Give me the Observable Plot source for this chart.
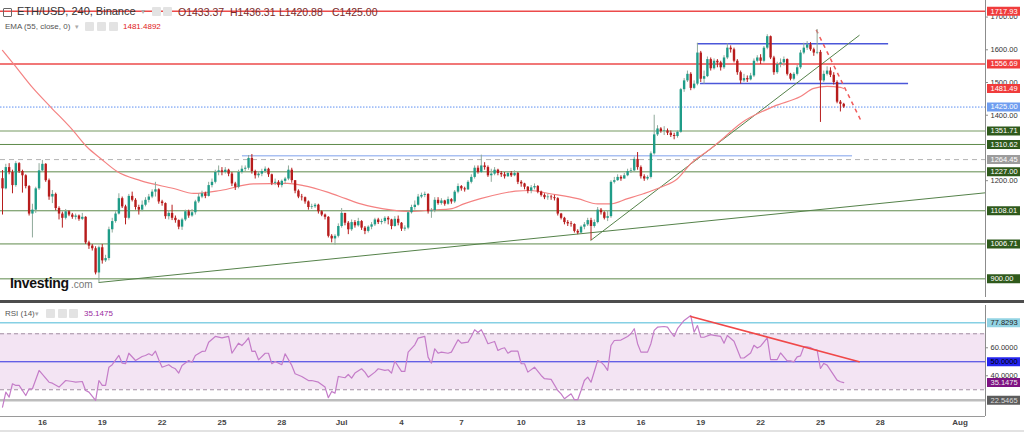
<!DOCTYPE html>
<html><head><meta charset="utf-8">
<script src="https://cdn.jsdelivr.net/npm/d3@7"></script>
<script src="https://cdn.jsdelivr.net/npm/@observablehq/plot@0.6"></script>
<style>
body{margin:0;background:#fff;font-family:"Liberation Sans",Arial,sans-serif}
#wrap{position:relative;width:1024px;height:432px;overflow:hidden;background:#fff}
#main{position:absolute;left:0;top:0}
#sep{position:absolute;left:0;top:300px;width:1024px;height:3px;background:#4d4d4d}
#rsi{position:absolute;left:0;top:303px}
#bot{position:absolute;left:0;top:430px;width:1024px;height:2px;background:#e2e2e2}
.t{position:absolute;white-space:nowrap;line-height:1}
.ic{position:absolute;width:9px;height:9px;background:#e3e3e3;border-radius:1px}
</style></head><body><div id="wrap"><div id="main"></div><div id="sep"></div><div id="rsi"></div><div id="bot"></div></div>
<script>
// ---------- data ----------
const symbolTitle = "ETH/USD, 240, Binance";
const emaTitle = "EMA (55, close, 0)";
const emaReading = "1481.4892";
const rsiTitle = "RSI (14)";
const startUTC = Date.UTC(2022, 5, 14, 0, 0); // first 4h candle
const firstOpen = 1206;
const closes = [1175,1240,1225,1185,1252,1228,1215,1182,1098,1110,1175,1230,1250,1200,1150,1158,1115,1098,1085,1105,
1095,1088,1092,1082,1088,1010,1000,992,918,995,955,962,1050,1075,1098,1145,1120,1085,1152,1140,
1118,1110,1125,1140,1150,1165,1172,1135,1130,1090,1100,1085,1078,1058,1080,1105,1092,1102,1135,1150,
1160,1152,1185,1195,1225,1230,1225,1232,1220,1190,1180,1225,1235,1238,1268,1228,1215,1220,1228,1235,
1218,1192,1195,1185,1198,1205,1232,1200,1168,1150,1148,1135,1118,1120,1125,1105,1095,1088,1030,1022,
1030,1060,1100,1070,1050,1072,1062,1075,1055,1045,1058,1065,1080,1072,1075,1085,1080,1060,1082,1070,
1052,1055,1102,1118,1125,1150,1155,1158,1105,1108,1140,1130,1138,1128,1142,1135,1165,1182,1175,1172,
1195,1210,1238,1225,1245,1240,1215,1220,1232,1222,1218,1212,1222,1215,1222,1195,1190,1180,1168,1178,
1182,1165,1155,1148,1150,1148,1145,1098,1085,1072,1068,1066,1045,1040,1058,1065,1078,1060,1072,1110,
1102,1085,1090,1195,1200,1210,1205,1215,1228,1230,1265,1240,1212,1205,1210,1282,1340,1358,1350,1352,
1345,1338,1335,1348,1478,1505,1525,1482,1495,1590,1510,1518,1570,1542,1565,1560,1545,1575,1605,1600,
1565,1530,1505,1512,1508,1520,1565,1575,1565,1605,1640,1575,1530,1555,1560,1570,1525,1510,1525,1545,
1590,1605,1615,1600,1590,1592,1505,1525,1535,1522,1500,1440,1433.37,1425.00];
const highs = [1231,1250,1252,1232,1258,1255,1232,1218,1185,1128,1180,1252,1262,1252,1205,1170,1162,1120,1104,1112,
1108,1100,1098,1095,1100,1090,1015,1005,998,1000,1005,972,1058,1085,1105,1160,1150,1125,1158,1165,
1145,1125,1138,1148,1158,1172,1195,1175,1140,1132,1108,1125,1092,1080,1085,1110,1110,1112,1140,1160,
1168,1165,1195,1205,1232,1245,1240,1240,1235,1225,1195,1232,1245,1245,1277,1280,1232,1228,1235,1242,
1238,1220,1205,1200,1202,1210,1245,1238,1200,1172,1158,1150,1138,1128,1130,1128,1108,1098,1090,1035,
1035,1068,1115,1100,1075,1080,1078,1085,1078,1060,1062,1072,1085,1085,1082,1090,1090,1082,1090,1092,
1072,1062,1108,1125,1138,1158,1162,1165,1160,1115,1148,1148,1145,1140,1150,1145,1170,1190,1185,1180,
1200,1218,1245,1245,1278,1255,1245,1235,1240,1235,1228,1225,1228,1228,1230,1225,1200,1192,1182,1185,
1190,1185,1168,1160,1158,1155,1155,1148,1100,1088,1078,1075,1068,1050,1062,1072,1085,1085,1080,1118,
1115,1105,1108,1200,1210,1218,1215,1222,1235,1238,1272,1286,1245,1218,1215,1288,1400,1368,1362,1365,
1358,1352,1345,1352,1482,1512,1535,1530,1505,1620,1595,1535,1578,1575,1572,1570,1565,1582,1618,1612,
1605,1570,1535,1525,1520,1528,1572,1582,1585,1610,1646,1642,1580,1562,1572,1578,1572,1528,1530,1552,
1598,1620,1625,1622,1605,1662,1598,1535,1548,1545,1530,1505,1445,1436.31];
const lows = [1095,1172,1218,1160,1180,1222,1162,1175,1092,1025,1100,1170,1225,1195,1140,1130,1108,1080,1055,1080,
1090,1082,1080,1076,1078,1005,990,985,912,889,945,950,955,1040,1070,1095,1115,1065,1080,1135,
1110,1095,1105,1120,1132,1145,1150,1128,1122,1082,1080,1078,1070,1050,1048,1075,1085,1088,1095,1130,
1145,1145,1150,1178,1190,1215,1215,1220,1212,1182,1170,1175,1220,1228,1232,1220,1205,1208,1212,1222,
1210,1185,1185,1178,1178,1190,1200,1192,1160,1145,1138,1128,1110,1112,1115,1098,1090,1080,1025,1010,
1003,1025,1055,1062,1035,1045,1055,1058,1048,1035,1040,1050,1060,1066,1065,1068,1065,1050,1058,1062,
1045,1045,1050,1098,1110,1122,1145,1148,1098,1085,1102,1125,1125,1122,1125,1128,1130,1160,1168,1165,
1170,1190,1205,1220,1222,1232,1210,1195,1215,1215,1210,1205,1210,1210,1212,1188,1180,1172,1160,1160,
1172,1160,1150,1142,1140,1140,1138,1092,1080,1065,1060,1058,1040,1035,1038,1050,1060,1017,1055,1068,
1095,1080,1075,1085,1190,1198,1198,1205,1212,1222,1225,1232,1205,1198,1200,1205,1278,1335,1345,1338,
1338,1332,1325,1330,1345,1470,1500,1475,1478,1490,1500,1495,1515,1535,1538,1545,1535,1540,1570,1590,
1560,1522,1495,1500,1500,1505,1515,1560,1555,1560,1600,1570,1522,1525,1545,1550,1520,1505,1505,1520,
1540,1585,1598,1595,1580,1585,1378,1500,1520,1515,1492,1435,1410,1420.88];

const emaTime = ["2022-06-14T00:00Z","2022-06-14T13:00Z","2022-06-15T13:00Z","2022-06-16T10:00Z","2022-06-17T13:00Z","2022-06-18T06:00Z","2022-06-18T22:00Z","2022-06-19T18:00Z","2022-06-20T22:00Z","2022-06-22T14:00Z","2022-06-23T14:00Z","2022-06-24T22:00Z","2022-06-26T14:00Z","2022-06-28T07:00Z","2022-06-29T02:00Z","2022-06-30T07:00Z","2022-07-01T05:00Z","2022-07-01T23:00Z","2022-07-03T11:00Z","2022-07-04T11:00Z","2022-07-05T15:00Z","2022-07-06T11:00Z","2022-07-07T03:00Z","2022-07-07T23:00Z","2022-07-08T23:00Z","2022-07-09T17:00Z","2022-07-10T11:00Z","2022-07-11T11:00Z","2022-07-12T20:00Z","2022-07-13T20:00Z","2022-07-14T11:00Z","2022-07-15T08:00Z","2022-07-16T03:00Z","2022-07-17T00:00Z","2022-07-17T20:00Z","2022-07-18T12:00Z","2022-07-19T09:00Z","2022-07-20T00:00Z","2022-07-21T00:00Z","2022-07-22T16:00Z","2022-07-24T00:00Z","2022-07-24T16:00Z","2022-07-25T08:00Z","2022-07-26T00:00Z","2022-07-26T04:00Z"];
const emaVal = [1598,1558,1482,1425,1353,1302,1268,1228,1200,1176,1161,1170,1190,1192,1185,1165,1145,1129,1111,1106,1111,1114,1129,1145,1160,1168,1170,1160,1145,1129,1129,1145,1160,1180,1206,1252,1292,1323,1375,1427,1457,1482,1488,1485,1481.49];

const rsiIdx = [0,1,2,3,4,5,7,8,9,11,14,15,17,19,21,22,24,25,26,28,29,30,31,32,33,35,36,37,38,40,42,43,44,45,46,47,48,50,51,52,53,54,56,57,58,60,61,62,64,66,68,69,71,72,73,74,75,76,77,79,80,81,82,84,85,87,88,90,92,93,95,97,98,99,100,101,103,104,105,106,108,109,110,112,113,115,116,117,118,120,121,122,124,125,127,128,129,130,131,132,134,135,137,138,140,141,142,143,144,145,146,148,149,150,151,152,153,155,156,157,158,160,162,163,165,167,168,169,171,172,173,174,175,176,177,179,180,181,182,183,184,186,188,189,190,191,192,194,195,196,197,199,200,201,202,203,205,207,208,209,210,211,213,214,216,217,218,220,222,223,225,226,227,228,230,231,233,234,236,237,238,239,240,241,242,243,244,245,246,247,248,249,251,252,253];
const rsiVal = [17.6,28.3,24.7,34.3,33.1,33.1,25.9,30.7,30.7,43.8,35.4,34.7,31.9,36.6,35.9,35.4,35.9,29.5,28.3,22.4,36.6,33.1,33.1,46.1,47.9,54.5,49,48.6,56.1,50.9,53.8,54.5,55.7,54.5,57.6,51.4,46.1,47.9,46.1,45,41.9,47.4,50.9,49.7,54.5,57.4,57.6,64,68.1,67.1,68.1,56.1,63.3,61.6,64,67.1,57.4,57.6,51.4,56.1,56.1,48.6,50.2,47.9,55.7,47.4,41.4,39.5,36.6,36.6,35.4,31.9,24.3,28.8,27.6,39.5,38.6,40.9,38.3,41.9,45,42.6,39,42.6,45,43.8,44.3,41.9,50.4,43.1,43.1,56.9,62.1,66.9,68.1,53.3,49,59.3,56.1,56.9,56.1,56.9,65.7,63.3,64,68.1,72.9,70.9,72.9,68.3,62.9,64.5,58.1,59.3,60,56.1,57.6,57.6,48.6,48.6,42.6,46.1,40.2,37.9,37.4,29.5,27.1,23.6,27.1,22.9,22.9,29.5,36.6,39,35.4,50.9,49.7,47.4,43.8,61.6,65.2,65.5,68.1,70,73.6,62.9,56.9,56.9,62.9,72.4,74.7,75.2,74.7,71.1,68.1,73.6,79.5,83,71.1,75.9,67.6,67.5,69.4,68.8,68.1,63.3,68.8,64.7,52.7,52.7,56.3,61.8,59.8,61.1,67.1,51.6,51.6,56.3,50.6,50.6,49.9,53.5,54.2,60.7,60.7,60.2,58.8,58.3,45.2,48.8,47.6,44,36.9,35.7,35.1475];

const redLevels = [1717.93, 1556.69];
const darkGreenLevels = [1310.62, 1227.00, 1108.01, 1006.71, 900.00];
const lightGreenLevels = [1351.71];
const grayDashLevels = [1264.45];
const lastPrice = [1425.00];
const emaLast = [1481.49];
const priceTicks = [1200, 1400, 1500, 1600, 1700];

const segStart = ["2022-06-26T00:40Z", "2022-07-18T20:00Z", "2022-07-18T23:40Z"];
const segEnd = ["2022-07-26T14:35Z", "2022-07-28T10:00Z", "2022-07-29T10:00Z"];
const segValue = [1276, 1618.2, 1496.9];

const trendStart = ["2022-06-18T19:30Z", "2022-07-13T11:24Z"];
const trendStartValue = [888.8, 1017];
const trendEnd = ["2022-08-02T06:36Z", "2022-07-26T23:00Z"];
const trendEndValue = [1163, 1644.6];
const dashStart = ["2022-07-24T18:54Z"], dashStartValue = [1661];
const dashEnd = ["2022-07-27T00:12Z"], dashEndValue = [1386];

const rsiTrendTime = ["2022-07-18T12:00Z", "2022-07-26T22:36Z"];
const rsiTrendValue = [82.4, 50];
const rsiBands = [30, 70];
const rsiMid = [50];
const rsiUpper = [77.8293];
const rsiLower = [22.5465];
const rsiTicks = [40, 60];

const dateTicks = ["2022-06-16","2022-06-19","2022-06-22","2022-06-25","2022-06-28","2022-07-01","2022-07-04","2022-07-07","2022-07-10","2022-07-13","2022-07-16","2022-07-19","2022-07-22","2022-07-25","2022-07-28","2022-08-01"];
const dateLabels = ["16","19","22","25","28","Jul","4","7","10","13","16","19","22","25","28","Aug"];

// ---------- layout ----------
const HOUR = 3600e3;
const pxPerHour = 0.83125;
const t0 = new Date(startUTC - 2 / pxPerHour * HOUR);
const t1 = new Date(t0.getTime() + 985 / pxPerHour * HOUR);
const atPx = px => new Date(t0.getTime() + px / pxPerHour * HOUR);
const D = s => new Date(s);

const candles = closes.map((c, i) => ({
  t: new Date(startUTC + i * 4 * HOUR),
  o: i ? closes[i - 1] : firstOpen, c, h: highs[i], l: lows[i]
}));
const up = candles.filter(d => d.c >= d.o), down = candles.filter(d => d.c < d.o);
const ema = emaTime.map((t, i) => ({t: D(t), v: emaVal[i]}));
const rsi = rsiIdx.map((k, i) => ({t: new Date(startUTC + k * 4 * HOUR), v: rsiVal[i]}));
const segs = segStart.map((s, i) => ({a: D(s), b: D(segEnd[i]), v: segValue[i]}));
const trends = trendStart.map((s, i) => ({a: D(s), va: trendStartValue[i], b: D(trendEnd[i]), vb: trendEndValue[i]}));
const dashes = dashStart.map((s, i) => ({a: D(s), va: dashStartValue[i], b: D(dashEnd[i]), vb: dashEndValue[i]}));

const RED = "#f03c3c", DGREEN = "#2f5a1c";
const mainLabels = [
  ...redLevels.map(v => ({v, bg: RED, fg: "#fff"})),
  ...emaLast.map(v => ({v, bg: RED, fg: "#fff"})),
  ...lastPrice.map(v => ({v, bg: "#6f9df0", fg: "#fff"})),
  ...lightGreenLevels.map(v => ({v, bg: DGREEN, fg: "#fff"})),
  ...darkGreenLevels.map(v => ({v, bg: DGREEN, fg: "#fff"})),
  ...grayDashLevels.map(v => ({v, bg: "#9c9c9c", fg: "#fff"}))
];
const rsiLabels = [
  ...rsiUpper.map(v => ({v, bg: "#92d3e3", fg: "#222"})),
  ...rsiMid.map(v => ({v, bg: "#2424ee", fg: "#000"})),
  ...[rsiVal[rsiVal.length - 1]].map(v => ({v, bg: "#7e1283", fg: "#eee"})),
  ...rsiLower.map(v => ({v, bg: "#5c5c5c", fg: "#ddd"}))
];

const font = "Liberation Sans, Arial, sans-serif";
const boxX1 = () => atPx(987), boxX2 = () => atPx(1020), txtX = () => atPx(990);

const mainPlot = Plot.plot({
  width: 1024, height: 300, marginLeft: 0, marginRight: 39, marginTop: 0, marginBottom: 3,
  style: {fontFamily: font, background: "transparent", overflow: "visible"},
  color: {type: "identity"},
  x: {type: "utc", domain: [t0, t1], axis: null},
  y: {domain: [843.0, 1750.6], axis: null},
  marks: [
    Plot.ruleY(darkGreenLevels, {stroke: "#5e8a4b", strokeWidth: 1}),
    Plot.ruleY(lightGreenLevels, {stroke: "#a3bb96", strokeWidth: 1.6}),
    Plot.ruleY(grayDashLevels, {stroke: "#b4b4b4", strokeWidth: 1, strokeDasharray: "5,4"}),
    Plot.ruleY(redLevels, {stroke: "#ec4a4a", strokeWidth: 1.4}),
    Plot.ruleY(lastPrice, {stroke: "#5b8ef2", strokeWidth: 1, strokeDasharray: "1.5,1.5"}),
    Plot.ruleY(segs, {y: "v", x1: "a", x2: "b", stroke: (d, i) => i === 0 ? "#a9c0f2" : "#4b57d9", strokeWidth: 1.5}),
    Plot.link(trends, {x1: "a", y1: "va", x2: "b", y2: "vb", stroke: "#55824a", strokeWidth: 1}),
    Plot.link(dashes, {x1: "a", y1: "va", x2: "b", y2: "vb", stroke: "#f05a5a", strokeWidth: 1.5, strokeDasharray: "4,4"}),
    Plot.line(ema, {x: "t", y: "v", stroke: "#f48282", strokeWidth: 1.2, curve: "monotone-x"}),
    Plot.ruleX(up, {x: "t", y1: "l", y2: "h", stroke: "#8fa99a", strokeWidth: 1}),
    Plot.ruleX(down, {x: "t", y1: "l", y2: "h", stroke: "#b71c1c", strokeWidth: 1}),
    Plot.ruleX(up, {x: "t", y1: "o", y2: "c", stroke: "#1f9c88", strokeWidth: 2.4}),
    Plot.ruleX(down, {x: "t", y1: "o", y2: "c", stroke: "#b71c1c", strokeWidth: 2.4}),
    Plot.ruleX([t1], {stroke: "#8c8c8c", strokeWidth: 1}),
    Plot.ruleY(priceTicks, {x1: () => t1, x2: () => atPx(988), stroke: "#8c8c8c"}),
    Plot.text(priceTicks, {x: txtX, y: d => d, text: d => d.toFixed(2), textAnchor: "start", fontSize: 7.5, fill: "#333"}),
    Plot.ruleY(mainLabels, {y: "v", x1: boxX1, x2: boxX2, stroke: "bg", strokeWidth: 9}),
    Plot.text(mainLabels, {x: txtX, y: "v", text: d => d.v.toFixed(2), textAnchor: "start", fontSize: 7.5, fill: "fg"})
  ]
});
document.getElementById("main").appendChild(mainPlot);

const rsiDomain = [10.9, 90.2];
const rsiPlot = Plot.plot({
  width: 1024, height: 129, marginLeft: 0, marginRight: 39, marginTop: 2, marginBottom: 16,
  style: {fontFamily: font, background: "transparent", overflow: "visible"},
  color: {type: "identity"},
  x: {type: "utc", domain: [t0, t1], axis: null},
  y: {domain: rsiDomain, axis: null},
  marks: [
    Plot.rect([rsiBands], {x1: () => t0, x2: () => t1, y1: d => d[0], y2: d => d[1], fill: "#f3e4f3"}),
    Plot.ruleY(rsiBands, {stroke: "#a28ea2", strokeDasharray: "4,3", strokeWidth: 1}),
    Plot.ruleY(rsiMid, {stroke: "#2f2fe0", strokeWidth: 1}),
    Plot.ruleY(rsiUpper, {stroke: "#86d0e4", strokeWidth: 1.5}),
    Plot.ruleY(rsiLower, {stroke: "#bdbdbd", strokeWidth: 2.5}),
    Plot.line(rsi, {x: "t", y: "v", stroke: "#c47cc8", strokeWidth: 1.2}),
    Plot.line(rsiTrendTime.map((t, i) => ({t: D(t), v: rsiTrendValue[i]})), {x: "t", y: "v", stroke: "#f04848", strokeWidth: 1.5}),
    Plot.ruleY([rsiDomain[0]], {stroke: "#9a9a9a", strokeWidth: 1}),
    Plot.ruleX([t1], {stroke: "#8c8c8c", strokeWidth: 1}),
    Plot.ruleY(rsiTicks, {x1: () => t1, x2: () => atPx(988), stroke: "#8c8c8c"}),
    Plot.text(rsiTicks, {x: txtX, y: d => d, text: d => d.toFixed(4), textAnchor: "start", fontSize: 7.5, fill: "#333"}),
    Plot.ruleY(rsiLabels, {y: "v", x1: boxX1, x2: boxX2, stroke: "bg", strokeWidth: 9}),
    Plot.text(rsiLabels, {x: txtX, y: "v", text: d => d.v.toFixed(4), textAnchor: "start", fontSize: 7.5, fill: "fg"}),
    Plot.text(dateTicks, {x: d => new Date(d + "T00:00Z"), text: (d, i) => dateLabels[i], frameAnchor: "bottom", dy: 8, fontSize: 8, fontWeight: 600, fill: "#444"})
  ]
});
document.getElementById("rsi").appendChild(rsiPlot);

// ---------- text overlays ----------
const wrap = document.getElementById("wrap");
function addText(txt, x, y, size, color, weight) {
  const el = document.createElement("div");
  el.className = "t"; el.textContent = txt;
  el.style.left = x + "px"; el.style.top = y + "px";
  el.style.fontSize = size + "px"; el.style.color = color;
  if (weight) el.style.fontWeight = weight;
  wrap.appendChild(el); return el;
}
function addIcon(x, y) {
  const el = document.createElement("div"); el.className = "ic";
  el.style.left = x + "px"; el.style.top = y + "px"; wrap.appendChild(el);
}
const box = document.createElement("div");
box.style.cssText = "position:absolute;left:3px;top:8px;width:7px;height:7px;border:1px solid #666;border-radius:1px";
wrap.appendChild(box);
addText(symbolTitle, 17, 6, 11, "#333");
addText("▾", 141, 8, 8, "#aaa");
addIcon(152, 7); addIcon(163, 7);
const last = candles[candles.length - 1];
const ohlc = [["O", last.o], ["H", last.h], ["L", last.l], ["C", last.c]];
const ohlcX = [178, 230, 279, 332];
ohlc.forEach(([k, v], i) => addText(k + v.toFixed(2), ohlcX[i], 7, 10.5, "#7a2a2a"));
addText(emaTitle, 5, 23, 8, "#555");
addText("▾", 75, 23, 7, "#aaa");
addIcon(85, 22); addIcon(97, 22); addIcon(109, 22);
addText(emaReading, 123, 23, 8, "#e01818");
addText(rsiTitle, 5, 310, 8, "#555");
addText("▾", 35, 310, 7, "#aaa");
addIcon(46, 309); addIcon(58, 309); addIcon(69, 309);
addText(rsiVal[rsiVal.length - 1].toFixed(4), 84, 310, 8, "#9b2aa0");
const logo = addText("Investing", 10, 276, 14, "#111", 700);
logo.style.letterSpacing = "-0.3px";
addText(".com", 71, 280, 10, "#777");
</script></body></html>
